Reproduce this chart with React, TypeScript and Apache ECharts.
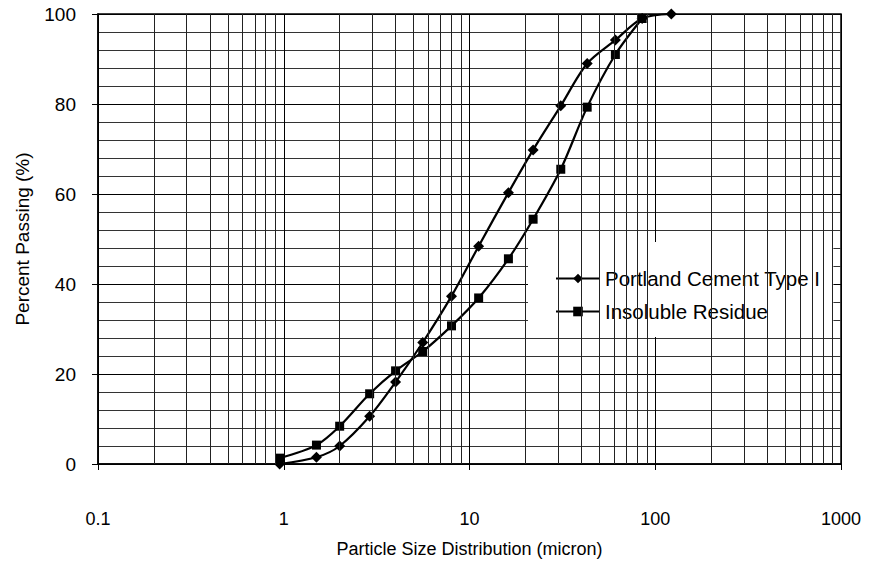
import React, { useEffect, useRef } from "react";
import * as echarts from "echarts";

const particleSize = [0.95, 1.5, 2, 2.9, 4, 5.6, 8, 11.2, 16.2, 22, 31, 43, 61, 85, 122];
const portlandCement = [0, 1.5, 4, 10.6, 18.2, 27, 37.3, 48.4, 60.3, 69.8, 79.6, 89, 94.2, 99, 100];
const insolubleSize = [0.95, 1.5, 2, 2.9, 4, 5.6, 8, 11.2, 16.2, 22, 31, 43, 61, 85];
const insolubleResidue = [1.3, 4.2, 8.4, 15.6, 20.7, 25, 30.7, 36.9, 45.6, 54.4, 65.5, 79.3, 91, 99];
const minorGridX = [
  0.2, 0.3, 0.4, 0.5, 0.6, 0.7, 0.8, 0.9,
  2, 3, 4, 5, 6, 7, 8, 9,
  20, 30, 40, 50, 60, 70, 80, 90,
  200, 300, 400, 500, 600, 700, 800, 900,
];

const FONT = "'Liberation Sans', Arial, sans-serif";

export default function App() {
  const ref = useRef<HTMLDivElement>(null);
  useEffect(() => {
    if (!ref.current) return;
    const chart = echarts.init(ref.current, undefined, { renderer: "svg" });
    chart.setOption({
      animation: false,
      backgroundColor: "#fff",
      textStyle: { fontFamily: FONT, color: "#000" },
      grid: {
        left: 98,
        right: 30,
        top: 14,
        bottom: 106,
        show: true,
        borderColor: "#000",
        borderWidth: 1.5,
      },
      legend: {
        orient: "vertical",
        left: 528,
        top: 242,
        backgroundColor: "#fff",
        padding: [26, 13, 15, 27],
        itemWidth: 44,
        itemHeight: 12,
        itemGap: 12,
        textStyle: { fontFamily: FONT, fontSize: 20.5, color: "#000" },
        data: ["Portland Cement Type I", "Insoluble Residue"],
      },
      xAxis: {
        type: "log",
        logBase: 10,
        min: 0.1,
        max: 1000,
        name: "Particle Size Distribution (micron)",
        nameLocation: "middle",
        nameGap: 76,
        nameTextStyle: { fontFamily: FONT, fontSize: 18, color: "#000" },
        axisLine: { show: true, lineStyle: { color: "#000", width: 1.5 } },
        axisTick: { show: true, length: 6, lineStyle: { color: "#000" } },
        axisLabel: {
          margin: 46,
          fontFamily: FONT,
          fontSize: 18,
          color: "#000",
          formatter: (v: number) => String(Math.round(v * 10) / 10),
        },
        splitLine: { show: true, lineStyle: { color: "#000", width: 1 } },
        minorTick: { show: false },
        minorSplitLine: { show: false },
      },
      yAxis: {
        type: "value",
        min: 0,
        max: 100,
        interval: 20,
        name: "Percent Passing (%)",
        nameLocation: "middle",
        nameGap: 66,
        nameTextStyle: { fontFamily: FONT, fontSize: 19, color: "#000" },
        axisLine: { show: true, lineStyle: { color: "#000", width: 1.5 } },
        axisTick: { show: true, length: 6, lineStyle: { color: "#000" } },
        axisLabel: { margin: 22, fontFamily: FONT, fontSize: 19, color: "#000" },
        splitLine: { show: true, lineStyle: { color: "#000", width: 1 } },
        minorTick: { show: false, splitNumber: 5 },
        minorSplitLine: { show: true, lineStyle: { color: "#333", width: 1 } },
      },
      series: [
        {
          name: "grid",
          type: "line",
          data: [],
          z: 1,
          silent: true,
          markLine: {
            silent: true,
            symbol: "none",
            label: { show: false },
            lineStyle: { color: "#222", width: 1, type: "solid" },
            data: minorGridX.map((v) => ({ xAxis: v })),
          },
        },
        {
          name: "Portland Cement Type I",
          type: "line",
          z: 3,
          data: particleSize.map((x, i) => [x, portlandCement[i]]),
          smooth: 0.3,
          symbol: "diamond",
          symbolSize: 11,
          itemStyle: { color: "#000" },
          lineStyle: { color: "#000", width: 2.2 },
        },
        {
          name: "Insoluble Residue",
          type: "line",
          z: 4,
          data: insolubleSize.map((x, i) => [x, insolubleResidue[i]]),
          smooth: 0.3,
          symbol: "rect",
          symbolSize: 9,
          itemStyle: { color: "#000" },
          lineStyle: { color: "#000", width: 2.2 },
        },
      ],
    });
    return () => chart.dispose();
  }, []);
  return <div ref={ref} style={{ width: 871, height: 570, position: "absolute", left: 0, top: 0 }} />;
}
